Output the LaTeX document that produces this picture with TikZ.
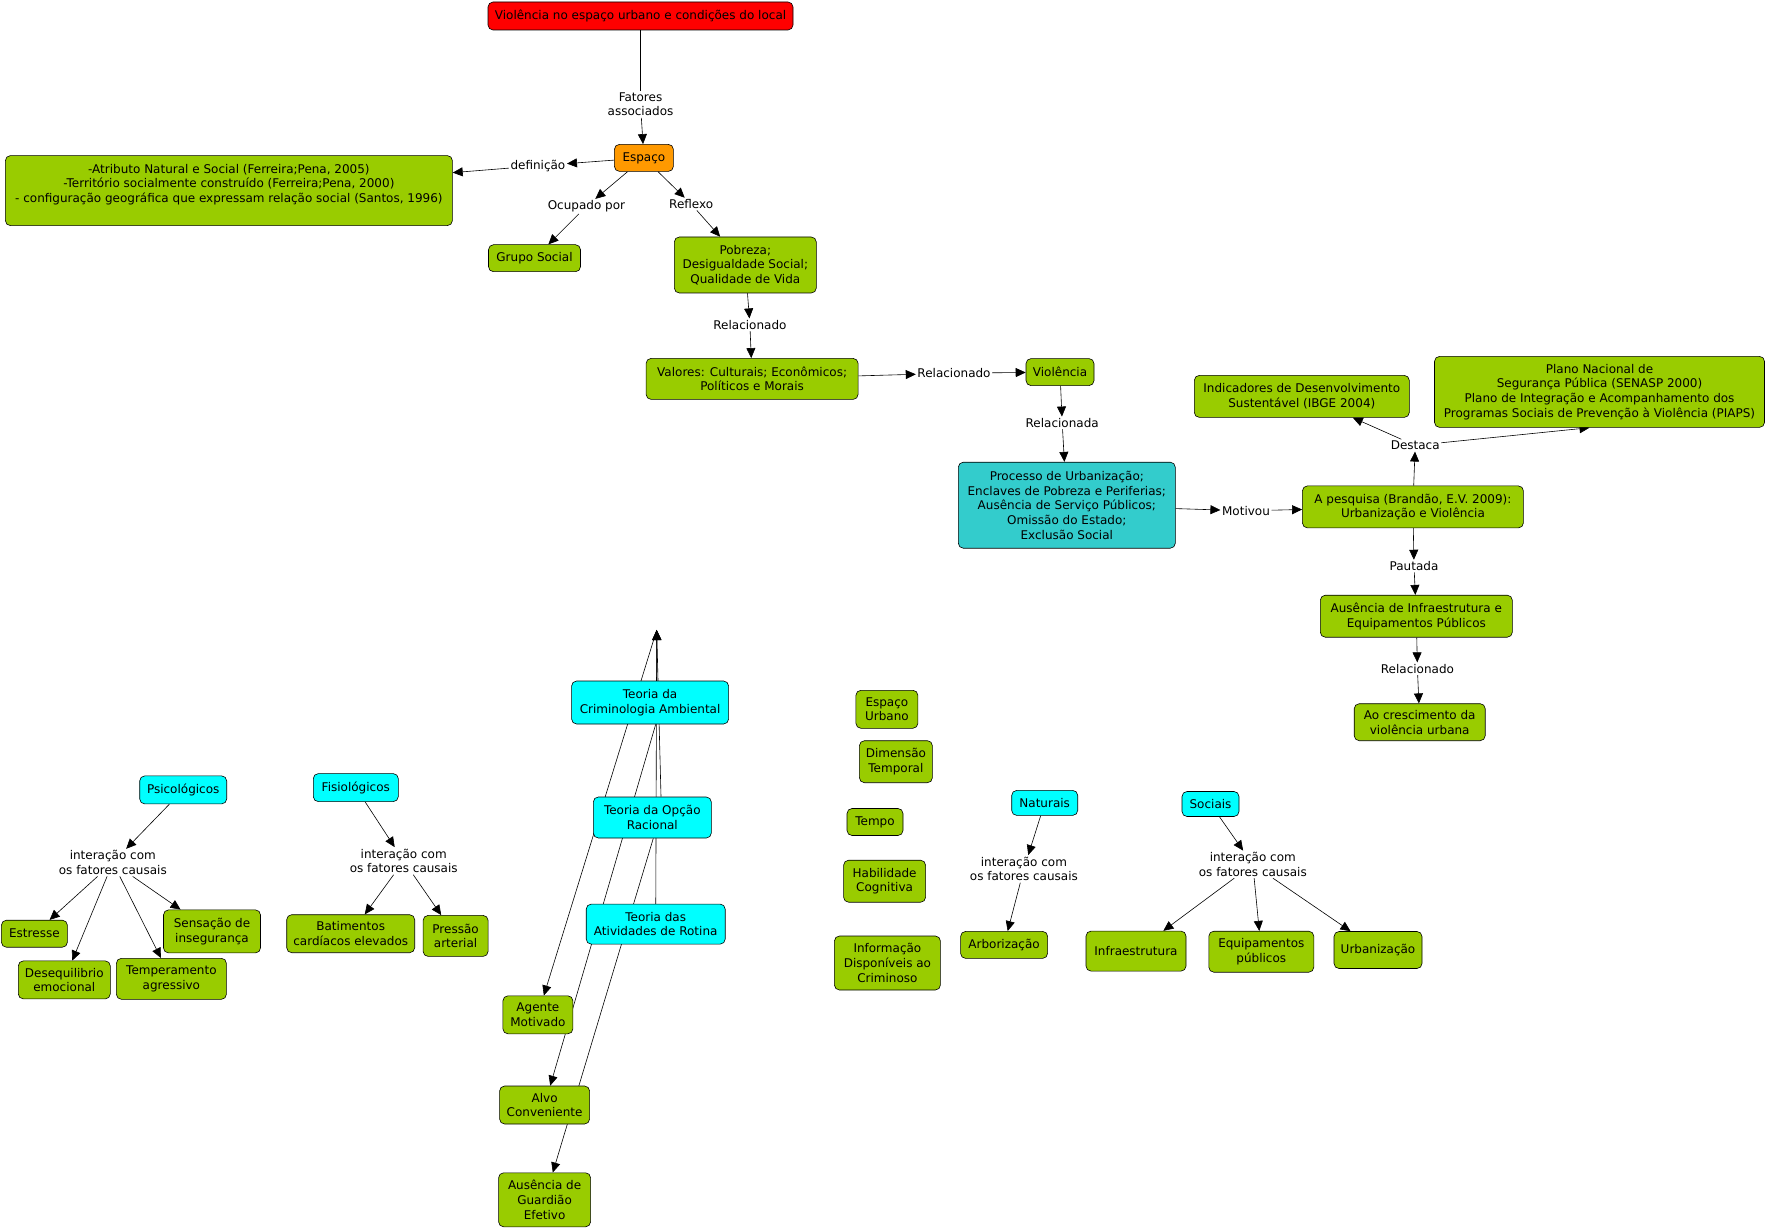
\documentclass[tikz,border=0pt]{standalone}
\usepackage{fontspec}
\setmainfont{DejaVu Sans}
\usetikzlibrary{arrows.meta,backgrounds}
\definecolor{cmgreen}{HTML}{99CC00}
\definecolor{cmcyan}{HTML}{00FFFF}
\definecolor{cmteal}{HTML}{33CCCC}
\definecolor{cmorange}{HTML}{FF9900}
\definecolor{cmred}{HTML}{FF0000}
\newcommand{\cmfont}{\fontsize{12}{14.7}\selectfont}

\begin{document}
\begin{tikzpicture}[x=1pt, y=-1pt,
  concept/.style={draw=black, line width=0.6pt, rounded corners=5pt, align=center, inner sep=2pt, font=\cmfont},
  cgreen/.style={concept, fill=cmgreen},
  ccyan/.style={concept, fill=cmcyan},
  dims/.style 2 args={minimum width=#1pt, minimum height=#2pt},
  linkword/.style={align=center, inner sep=1.5pt, font=\cmfont},
  conn/.style={line width=0.6pt, -{Triangle[length=10pt,width=9pt]}},
  bare/.style={line width=0.6pt},
]
\useasboundingbox (0,0) rectangle (1768,1230);

% upper map
\node[concept, fill=cmred, dims={305}{28}] (titulo) at (640.5,16) {Violência no espaço urbano e condições do local};
\node[linkword] (fatores) at (640.5,104.3) {Fatores\\associados};
\node[concept, fill=cmorange, dims={59}{27}] (espaco) at (643.9,157.9) {Espaço};
\node[linkword] (definicao) at (537.9,165.8) {definição};
\node[cgreen, dims={447}{70}] (defin) at (228.9,190.6) {-Atributo Natural e Social (Ferreira;Pena, 2005)\\-Território socialmente construído (Ferreira;Pena, 2000)\\- configuração geográfica que expressam relação social (Santos, 1996)\\\rule{0pt}{0pt}};
\node[linkword] (ocupado) at (586.4,206.4) {Ocupado por};
\node[cgreen, dims={92}{27}] (grupo) at (534.5,258.2) {Grupo Social};
\node[linkword] (reflexo) at (691.2,204.1) {Reflexo};
\node[cgreen, dims={142}{56}] (pobreza) at (745.3,265) {Pobreza;\\Desigualdade Social;\\Qualidade de Vida};
\node[linkword] (relac1) at (749.9,324.8) {Relacionado};
\node[cgreen, dims={212}{41}] (valores) at (752.1,378.9) {Valores: Culturais; Econômicos;\\Políticos e Morais};
\node[linkword] (relac2) at (954,373.2) {Relacionado};
\node[cgreen, dims={68}{27}] (violencia) at (1060,372.1) {Violência};
\node[linkword] (relacda) at (1062.2,422.9) {Relacionada};
\node[concept, fill=cmteal, dims={217}{86}] (processo) at (1066.8,505.2) {Processo de Urbanização;\\Enclaves de Pobreza e Periferias;\\Ausência de Serviço Públicos;\\Omissão do Estado;\\Exclusão Social};
\node[linkword] (motivou) at (1246,510.8) {Motivou};
\node[cgreen, dims={221}{42}] (pesquisa) at (1412.9,506.9) {A pesquisa (Brandão, E.V. 2009):\\Urbanização e Violência};
\node[linkword] (destaca) at (1415.2,445.4) {Destaca};
\node[cgreen, dims={215}{42}] (indicadores) at (1301.8,396.4) {Indicadores de Desenvolvimento\\Sustentável (IBGE 2004)};
\node[cgreen, dims={330}{71}] (plano) at (1599.5,391.9) {Plano Nacional de\\Segurança Pública (SENASP 2000)\\Plano de Integração e Acompanhamento dos\\Programas Sociais de Prevenção à Violência (PIAPS)};
\node[linkword] (pautada) at (1414,566.1) {Pautada};
\node[cgreen, dims={192}{42}] (ausinfra) at (1416.3,616.2) {Ausência de Infraestrutura e\\Equipamentos Públicos};
\node[linkword] (relac3) at (1417.4,668.7) {Relacionado};
\node[cgreen, dims={131}{37}] (crescimento) at (1419.7,722.2) {Ao crescimento da\\violência urbana};

% psicologicos / fisiologicos
\node[ccyan, dims={87}{28}] (psico) at (183.2,789.9) {Psicológicos};
\node[linkword] (inter1) at (112.8,862.6) {interação com\\os fatores causais};
\node[cgreen, dims={66}{27}] (estresse) at (34.4,933.7) {Estresse};
\node[cgreen, dims={92}{38}] (deseq) at (64.3,979.9) {Desequilibrio\\emocional};
\node[cgreen, dims={110}{41}] (temper) at (171.4,978.8) {Temperamento\\agressivo};
\node[cgreen, dims={97}{43}] (sensacao) at (212,931.4) {Sensação de\\insegurança};
\node[ccyan, dims={85}{28}] (fisio) at (355.8,787.6) {Fisiológicos};
\node[linkword] (inter2) at (403.7,860.9) {interação com\\os fatores causais};
\node[cgreen, dims={128}{38}] (batim) at (350.7,933.7) {Batimentos\\cardíacos elevados};
\node[cgreen, dims={65}{41}] (pressao) at (455.6,935.9) {Pressão\\arterial};

% teorias
\coordinate (apex) at (656.7,630);
\node[ccyan, dims={157}{43}] (crim) at (650.1,702.5) {Teoria da\\Criminologia Ambiental};
\node[ccyan, dims={118}{41}] (opcao) at (652.3,817.5) {Teoria da Opção\\Racional};
\node[ccyan, dims={139}{40}] (rotina) at (655.7,924.1) {Teoria das\\Atividades de Rotina};
\node[cgreen, dims={70}{38}] (agente) at (537.9,1014.8) {Agente\\Motivado};
\node[cgreen, dims={90}{38}] (alvo) at (544.6,1105) {Alvo\\Conveniente};
\node[cgreen, dims={92}{54}] (guardiao) at (544.6,1199.8) {Ausência de\\Guardião\\Efetivo};

% conceitos soltos
\node[cgreen, dims={62}{38}] (espurb) at (886.9,709.3) {Espaço\\Urbano};
\node[cgreen, dims={73}{42}] (dimtemp) at (895.9,761.7) {Dimensão\\Temporal};
\node[cgreen, dims={56}{27}] (tempo) at (875,822) {Tempo};
\node[cgreen, dims={82}{42}] (habil) at (884.6,881.2) {Habilidade\\Cognitiva};
\node[cgreen, dims={106}{54}] (info) at (887.4,963) {Informação\\Disponíveis ao\\Criminoso};

% naturais / sociais
\node[ccyan, dims={66}{25}] (naturais) at (1044.7,802.9) {Naturais};
\node[linkword] (inter3) at (1023.9,868.9) {interação com\\os fatores causais};
\node[cgreen, dims={87}{27}] (arbor) at (1004.1,944.9) {Arborização};
\node[ccyan, dims={57}{25}] (sociais) at (1210.5,804) {Sociais};
\node[linkword] (inter4) at (1252.8,864.4) {interação com\\os fatores causais};
\node[cgreen, dims={100}{40}] (infra) at (1136,951.1) {Infraestrutura};
\node[cgreen, dims={105}{41}] (equip) at (1261.3,951.7) {Equipamentos\\públicos};
\node[cgreen, dims={88}{37}] (urban) at (1378,950) {Urbanização};

\begin{pgfonlayer}{background}
\draw[bare] (titulo) -- (fatores);
\draw[conn] (fatores) -- (espaco);
\draw[conn] (espaco) -- (definicao);
\draw[conn] (definicao) -- (defin);
\draw[conn] (espaco) -- (ocupado);
\draw[conn] (ocupado) -- (grupo);
\draw[conn] (espaco) -- (reflexo);
\draw[conn] (reflexo) -- (pobreza);
\draw[conn] (pobreza) -- (relac1);
\draw[conn] (relac1) -- (valores);
\draw[conn] (valores) -- (relac2);
\draw[conn] (relac2) -- (violencia);
\draw[conn] (violencia) -- (relacda);
\draw[conn] (relacda) -- (processo);
\draw[conn] (processo) -- (motivou);
\draw[conn] (motivou) -- (pesquisa);
\draw[conn] (pesquisa) -- (destaca);
\draw[conn] (destaca) -- ([xshift=51pt]indicadores.south);
\draw[conn] (destaca) -- ([xshift=-10pt]plano.south);
\draw[conn] (pesquisa) -- (pautada);
\draw[conn] (pautada) -- (ausinfra);
\draw[conn] (ausinfra) -- (relac3);
\draw[conn] (relac3) -- (crescimento);
% fatores causais
\draw[conn] (psico) -- (inter1);
\foreach \t in {estresse,deseq,temper,sensacao}
  \draw[conn] (inter1) -- (\t);
\draw[conn] (fisio) -- (inter2);
\foreach \t in {batim,pressao}
  \draw[conn] (inter2) -- (\t);
\draw[conn] (naturais) -- (inter3);
\draw[conn] (inter3) -- (arbor);
\draw[conn] (sociais) -- (inter4);
\foreach \t in {infra,equip,urban}
  \draw[conn] (inter4) -- (\t);
% teorias
\draw[conn] ([xshift=6.6pt]crim.north) -- (apex);
\draw[conn] ([xshift=8.7pt]opcao.north) -- (apex);
\draw[conn] (rotina) -- (apex);
\draw[conn] (apex) -- (agente);
\draw[conn] ([xshift=5.6pt]crim.south) -- (alvo);
\draw[conn] ([xshift=1pt]opcao.south) -- (guardiao);
\end{pgfonlayer}
\end{tikzpicture}
\end{document}
